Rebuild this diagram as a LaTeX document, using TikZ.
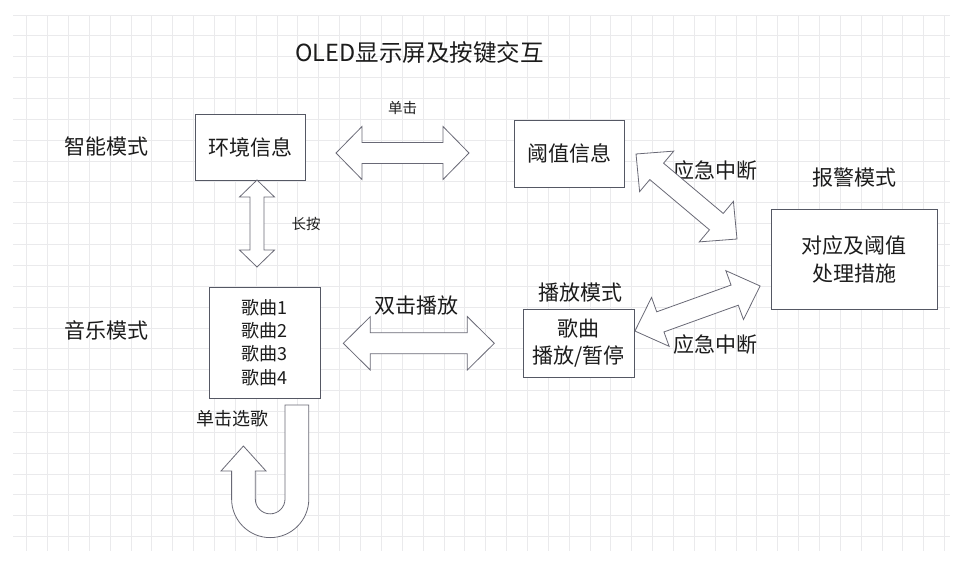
\documentclass[tikz,border=0pt]{standalone}
\usepackage{fontspec}
\setmainfont{Noto Sans CJK SC}
\definecolor{gridc}{RGB}{234,234,236}
\definecolor{boxc}{RGB}{85,88,100}
\definecolor{arrc}{RGB}{105,105,118}
\definecolor{txtc}{RGB}{28,28,28}
\newcommand\blockdbl[7]{% cx cy rot L s h a
  \begin{scope}[shift={(#1,#2)},rotate=#3]
    \pgfmathsetmacro\xa{-#4/2}
    \pgfmathsetmacro\xb{-#4/2+#7}
    \pgfmathsetmacro\xc{#4/2-#7}
    \pgfmathsetmacro\xd{#4/2}
    \draw[arrowshape] (\xa,0) -- (\xb,#6) -- (\xb,#5) -- (\xc,#5) -- (\xc,#6) -- (\xd,0)
      -- (\xc,-#6) -- (\xc,-#5) -- (\xb,-#5) -- (\xb,-#6) -- cycle;
  \end{scope}}
\begin{document}
\begin{tikzpicture}[x=1pt,y=-1pt,
  box/.style={draw=boxc, line width=0.9pt, fill=white, inner sep=0pt, text=txtc, align=center},
  lbl/.style={text=txtc, inner sep=0pt, align=center, font=\fontsize{21}{27}\selectfont},
  small/.style={text=txtc, inner sep=0pt, font=\fontsize{14.5}{17}\selectfont},
  arrowshape/.style={draw=arrc, line width=0.8pt, fill=white, line join=miter}]
\useasboundingbox (0,0) rectangle (973,568);
\fill[white] (0,0) rectangle (973,568);
% grid
\foreach \k in {0,...,44} {
  \draw[gridc, line width=0.8pt] ({26.7+20.86*\k},15) -- ({26.7+20.86*\k},551);
}
\foreach \k in {0,...,25} {
  \draw[gridc, line width=0.8pt] (13,{15+20.86*\k}) -- (950,{15+20.86*\k});
}
% title
\node[lbl, font=\fontsize{23.5}{28}\selectfont] (title) at (419.5,53) {OLED显示屏及按键交互};
% boxes
\node[box, minimum width=110pt, minimum height=66pt, font=\fontsize{21}{27}\selectfont] (env) at (250,147) {环境信息};
\node[box, minimum width=110pt, minimum height=67pt, font=\fontsize{21}{27}\selectfont] (thr) at (569,153.5) {阈值信息};
\node[box, minimum width=111pt, minimum height=111pt, font=\fontsize{18}{23.3}\selectfont] (songs) at (264.5,342.5) {歌曲1\\歌曲2\\歌曲3\\歌曲4};
\node[box, minimum width=111pt, minimum height=68pt, font=\fontsize{21}{27}\selectfont] (play) at (578.5,343) {歌曲\\播放/暂停};
\node[box, minimum width=166pt, minimum height=100pt, font=\fontsize{21}{28}\selectfont] (alarm) at (854,259) {对应及阈值\\处理措施};
% labels
\node[small] (click) at (402.5,107.5) {单击};
\node[lbl] (smart) at (106,147) {智能模式};
\node[small] (long) at (306,224) {长按};
\node[lbl] (emg1) at (715,171) {应急中断};
\node[lbl] (alarmlbl) at (854.5,178) {报警模式};
\node[lbl] (music) at (106,330) {音乐模式};
\node[lbl] (dbl) at (416.7,306) {双击播放};
\node[lbl] (playlbl) at (580.5,293) {播放模式};
\node[lbl] (emg2) at (715,345) {应急中断};
\node[text=txtc, inner sep=0pt, font=\fontsize{18}{22}\selectfont] (sel) at (232,419) {单击选歌};
% block arrows
\blockdbl{402.5}{153}{0}{133}{10.5}{26.5}{26}
\blockdbl{257}{223.5}{90}{87}{7}{17.5}{17}
\blockdbl{418.8}{343.3}{0}{151}{10.5}{26.7}{27}
\blockdbl{686.5}{196.5}{-40.1}{132}{10.7}{26.5}{27}
\blockdbl{697.5}{308.5}{19.8}{133}{10.7}{26}{27}
% U-turn arrow
\draw[arrowshape] (285,405) -- (285,499) arc[start angle=0,end angle=180,radius=14.85]
  -- (255.3,471) -- (266,471) -- (243.4,446) -- (221,471) -- (231.6,471) -- (231.6,499)
  arc[start angle=180,end angle=0,radius=38.6] -- (308.8,405) -- cycle;
\end{tikzpicture}
\end{document}
